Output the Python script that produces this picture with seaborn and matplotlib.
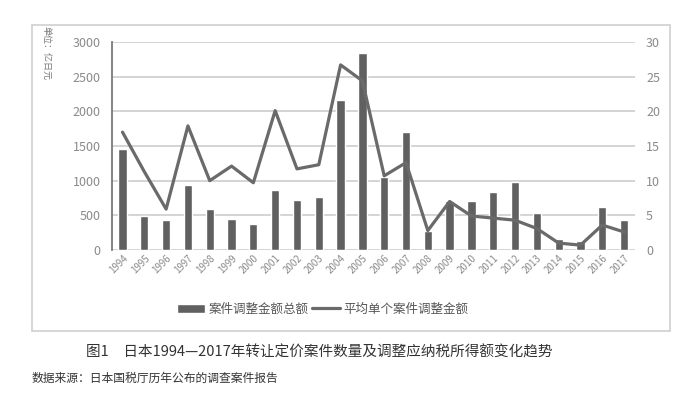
import numpy as np
import pandas as pd
import matplotlib
matplotlib.use("Agg")
import matplotlib.pyplot as plt
from matplotlib.patches import Rectangle
import seaborn as sns

years = [str(y) for y in range(1994, 2018)]
total_amount = [1450, 490, 430, 940, 590, 440, 380, 860, 720, 760, 2170, 2840,
                1060, 1700, 270, 700, 700, 830, 980, 530, 160, 130, 620, 430]
avg_amount = [17.0, 11.3, 5.9, 17.9, 10.0, 12.1, 9.7, 20.1, 11.7, 12.3, 26.7, 24.4,
              10.7, 12.6, 2.8, 7.0, 4.9, 4.6, 4.3, 3.1, 1.0, 0.7, 3.6, 2.6]

bar_label = "案件调整金额总额"
line_label = "平均单个案件调整金额"
unit_label = "单位：亿日元"
caption = "图1　日本1994—2017年转让定价案件数量及调整应纳税所得额变化趋势"
source = "数据来源：日本国税厅历年公布的调查案件报告"

df = pd.DataFrame({"year": years, "total": total_amount, "avg": avg_amount})

sns.set_theme(style="white")
plt.rcParams['font.family'] = ['Noto Sans CJK SC', 'DejaVu Sans']

fig = plt.figure(figsize=(6.98, 4.0), dpi=100)
ax = fig.add_axes([111.6/698, 1-250/400, (635-111.6)/698, (250-42)/400])

tick_color = "#8a8a8a"
bar_color = "#606060"
line_color = "#6a6a6a"

sns.barplot(data=df, x="year", y="total", ax=ax, color=bar_color, width=0.38,
            saturation=1, label=bar_label)
if ax.get_legend() is not None:
    ax.get_legend().remove()

ax2 = ax.twinx()
sns.lineplot(x=df.index, y=df["avg"], ax=ax2, color=line_color, linewidth=2.3,
             label=line_label, legend=False)
ax2.set_ylim(0, 30)
ax2.set_yticks(range(0, 31, 5))
ax2.set_ylabel("")
for s in ["top", "right", "bottom", "left"]:
    ax2.spines[s].set_visible(False)
ax2.tick_params(axis="y", colors=tick_color, labelsize=9, length=0, pad=8)
ax2.grid(False)

ax.set_ylim(0, 3000)
ax.set_yticks(range(0, 3001, 500))
ax.set_xlim(-0.5, len(years) - 0.5)
ax.set_xticks(range(len(years)))
ax.set_xticklabels(years)
ax.yaxis.grid(True, color="#d4d4d4", linewidth=1.4)
ax.set_axisbelow(True)
for s in ["top", "right", "bottom"]:
    ax.spines[s].set_visible(False)
ax.spines["left"].set_color("#7a7a7a")
ax.spines["left"].set_linewidth(1.3)
ax.set_xlabel("")
ax.set_ylabel("")
ax.tick_params(axis="y", colors=tick_color, labelsize=9, length=0, pad=8)
ax.tick_params(axis="x", colors=tick_color, labelsize=7, length=0, pad=2,
               labelrotation=45)
for lbl in ax.get_xticklabels():
    lbl.set_rotation(45)
    lbl.set_ha("right")
    lbl.set_rotation_mode("anchor")

h1, l1 = ax.get_legend_handles_labels()
h2, l2 = ax2.get_legend_handles_labels()
fig.legend(h1 + h2, l1 + l2, loc="center", bbox_to_anchor=(323/698, 1-309/400),
           ncol=2, frameon=False, fontsize=9, handlelength=2.2,
           columnspacing=0.3, handletextpad=0.3, labelcolor="#555555")

fig.text(46/698, 1-53/400, unit_label, rotation=270, fontsize=6.5,
         color="#777777", ha="center", va="center")

fig.patches.append(Rectangle((32/698, 1-331/400), 638/698, 306/400,
                             transform=fig.transFigure, fill=False,
                             edgecolor="#cfcfcf", linewidth=1.2))

fig.text(319/698, 1-352/400, caption, fontsize=10.5, color="#333333",
         ha="center", va="center")
fig.text(32/698, 1-378/400, source, fontsize=8.5, color="#333333",
         ha="left", va="center")

fig.savefig("out.png", dpi=100)
